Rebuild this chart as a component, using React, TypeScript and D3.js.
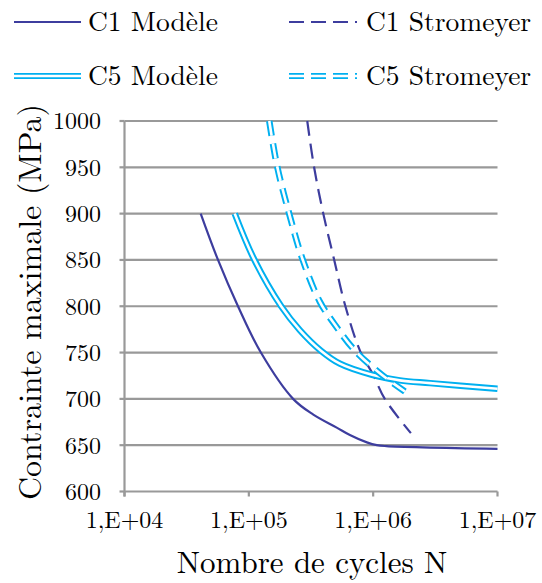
import React from "react";
import * as d3 from "d3";

const X_TICKS = [1e4, 1e5, 1e6, 1e7];
const X_TICK_LABELS = ["1,E+04", "1,E+05", "1,E+06", "1,E+07"];
const Y_TICKS = [600, 650, 700, 750, 800, 850, 900, 950, 1000];

const C1_MOD_N = [4.1e4, 5.65e4, 8.18e4, 1.25e5, 2.27e5, 3.3e5, 5.09e5, 6.5e5, 8.9e5, 1.07e6, 1.28e6, 1e7];
const C1_MOD_S = [900, 850, 800, 750, 700, 683, 669, 661, 653, 650, 649, 646];

const C1_STR_N = [2.95e5, 3.34e5, 3.97e5, 4.84e5, 5.98e5, 7.89e5, 1.0e6, 1.24e6, 2.01e6];
const C1_STR_S = [1000, 951, 900, 851, 800, 751, 726, 700, 663];

const C5_MOD_N = [7.7e4, 1.1e5, 1.82e5, 2.58e5, 3.8e5, 5.4e5, 9.8e5, 1.64e6, 2.87e6, 1e7];
const C5_MOD_S = [900, 851, 800, 774, 752, 738, 726, 720, 717, 711];

const C5_STR_N = [1.46e5, 1.69e5, 2.11e5, 2.7e5, 3.72e5, 4.93e5, 7.15e5, 1.2e6, 1.8e6];
const C5_STR_S = [1000, 951, 900, 851, 805, 780, 752, 725, 708];

const DARK = "#3D3D9E";
const CYAN = "#00B0F0";
const GRID = "#999999";
const FONT =
  "'Latin Modern Roman', 'CMU Serif', 'Liberation Serif', 'DejaVu Serif', 'Noto Serif', Tinos, 'Nimbus Roman', FreeSerif, 'Times New Roman', Times, serif";

export default function App() {
  const x = d3.scaleLog().domain([1e4, 1e7]).range([124.5, 497.5]);
  const y = d3.scaleLinear().domain([600, 1000]).range([491.5, 121]);
  const line = d3
    .line<[number, number]>()
    .x((d) => x(d[0]))
    .y((d) => y(d[1]))
    .curve(d3.curveCatmullRom.alpha(0.5));
  const path = (ns: number[], ss: number[]) =>
    line(ns.map((n, i) => [n, ss[i]] as [number, number])) || "";

  const c1m = path(C1_MOD_N, C1_MOD_S);
  const c1s = path(C1_STR_N, C1_STR_S);
  const c5m = path(C5_MOD_N, C5_MOD_S);
  const c5s = path(C5_STR_N, C5_STR_S);
  const dash = "15,8";

  return (
    <svg
      width={542}
      height={583}
      style={{ position: "absolute", left: 0, top: 0, background: "#fff", fontFamily: FONT }}
    >
      {/* legend */}
      <g>
        <line x1={14} x2={81} y1={22} y2={22} stroke={DARK} strokeWidth={2.2} />
        <text x={88} y={31} fontSize={27.5} fill="#000">C1 Modèle</text>
        <line x1={289} x2={357} y1={22} y2={22} stroke={DARK} strokeWidth={2.2} strokeDasharray="15,7" />
        <text x={366} y={31} fontSize={27.5} fill="#000">C1 Stromeyer</text>
        <line x1={14} x2={81} y1={76} y2={76} stroke={CYAN} strokeWidth={6} />
        <line x1={14} x2={81} y1={76} y2={76} stroke="#fff" strokeWidth={2.4} />
        <text x={88} y={85} fontSize={27.5} fill="#000">C5 Modèle</text>
        <line x1={289} x2={357} y1={76} y2={76} stroke={CYAN} strokeWidth={6} strokeDasharray="15,7" />
        <line x1={289} x2={357} y1={76} y2={76} stroke="#fff" strokeWidth={2.4} />
        <text x={366} y={85} fontSize={27.5} fill="#000">C5 Stromeyer</text>
      </g>

      {/* grid */}
      {Y_TICKS.map((t) => (
        <g key={t}>
          {t !== 600 && (
            <line x1={x(1e4)} x2={x(1e7)} y1={y(t)} y2={y(t)} stroke={GRID} strokeWidth={2.2} />
          )}
          <line x1={x(1e4) - 5} x2={x(1e4)} y1={y(t)} y2={y(t)} stroke={GRID} strokeWidth={2.2} />
          <text x={101} y={y(t)} dy="0.35em" textAnchor="end" fontSize={24} fill="#000">
            {t}
          </text>
        </g>
      ))}
      {/* axes */}
      <line x1={x(1e4)} x2={x(1e4)} y1={y(1000)} y2={y(600) + 5} stroke={GRID} strokeWidth={2.2} />
      <line x1={x(1e4)} x2={x(1e7)} y1={y(600)} y2={y(600)} stroke={GRID} strokeWidth={2.2} />
      {X_TICKS.map((t, i) => (
        <g key={t}>
          <line x1={x(t)} x2={x(t)} y1={y(600)} y2={y(600) + 5} stroke={GRID} strokeWidth={2.2} />
          <text x={x(t)} y={528} textAnchor="middle" fontSize={24} fill="#000">
            {X_TICK_LABELS[i]}
          </text>
        </g>
      ))}

      {/* series */}
      <path d={c1m} fill="none" stroke={DARK} strokeWidth={2.2} />
      <path d={c1s} fill="none" stroke={DARK} strokeWidth={2.2} strokeDasharray={dash} />
      <path d={c5m} fill="none" stroke={CYAN} strokeWidth={6.5} />
      <path d={c5m} fill="none" stroke="#fff" strokeWidth={2.6} />
      <path d={c5s} fill="none" stroke={CYAN} strokeWidth={6.5} strokeDasharray={dash} />
      <path d={c5s} fill="none" stroke="#fff" strokeWidth={2.6} strokeDasharray={dash} />

      {/* axis titles */}
      <text x={312} y={573} textAnchor="middle" fontSize={31} fill="#000">
        Nombre de cycles N
      </text>
      <text
        transform="translate(41,302) rotate(-90)"
        textAnchor="middle"
        fontSize={32}
        fill="#000"
      >
        Contrainte maximale (MPa)
      </text>
    </svg>
  );
}
